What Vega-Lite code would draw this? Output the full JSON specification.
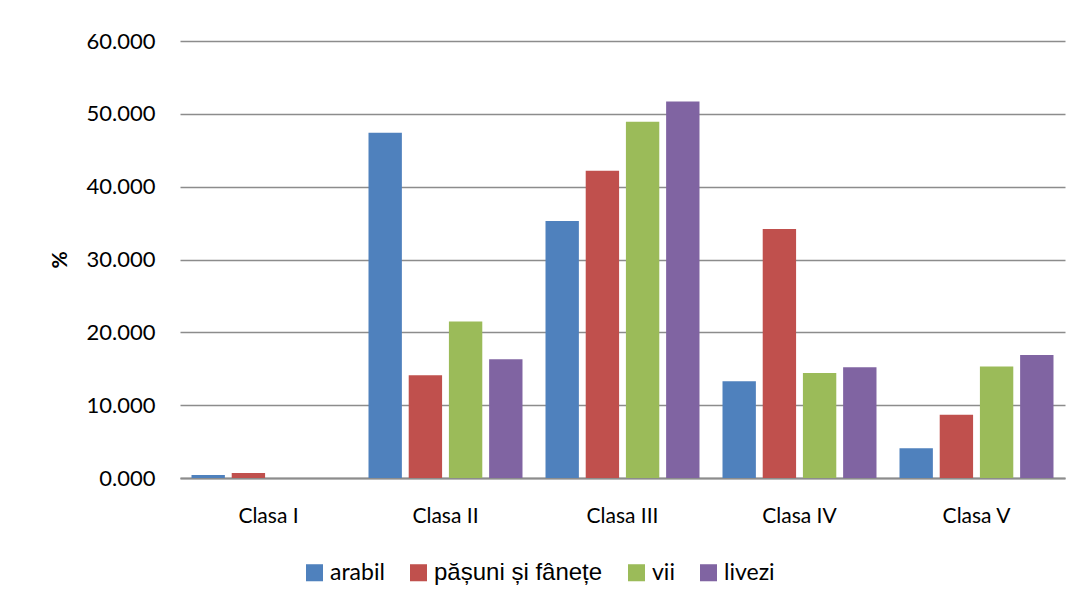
{
  "$schema": "https://vega.github.io/schema/vega-lite/v6.json",
  "width": 885,
  "height": 437,
  "autosize": {"type": "none"},
  "padding": {"left": 180, "top": 41, "right": 16, "bottom": 125},
  "background": "white",
  "data": {
    "values": [
      {"clasa": "Clasa I", "folosinta": "arabil", "procent": 0.4},
      {"clasa": "Clasa I", "folosinta": "pășuni și fânețe", "procent": 0.7},
      {"clasa": "Clasa I", "folosinta": "vii", "procent": 0},
      {"clasa": "Clasa I", "folosinta": "livezi", "procent": 0},
      {"clasa": "Clasa II", "folosinta": "arabil", "procent": 47.4},
      {"clasa": "Clasa II", "folosinta": "pășuni și fânețe", "procent": 14.1},
      {"clasa": "Clasa II", "folosinta": "vii", "procent": 21.5},
      {"clasa": "Clasa II", "folosinta": "livezi", "procent": 16.3},
      {"clasa": "Clasa III", "folosinta": "arabil", "procent": 35.3},
      {"clasa": "Clasa III", "folosinta": "pășuni și fânețe", "procent": 42.2},
      {"clasa": "Clasa III", "folosinta": "vii", "procent": 48.9},
      {"clasa": "Clasa III", "folosinta": "livezi", "procent": 51.7},
      {"clasa": "Clasa IV", "folosinta": "arabil", "procent": 13.3},
      {"clasa": "Clasa IV", "folosinta": "pășuni și fânețe", "procent": 34.2},
      {"clasa": "Clasa IV", "folosinta": "vii", "procent": 14.4},
      {"clasa": "Clasa IV", "folosinta": "livezi", "procent": 15.2},
      {"clasa": "Clasa V", "folosinta": "arabil", "procent": 4.1},
      {"clasa": "Clasa V", "folosinta": "pășuni și fânețe", "procent": 8.7},
      {"clasa": "Clasa V", "folosinta": "vii", "procent": 15.3},
      {"clasa": "Clasa V", "folosinta": "livezi", "procent": 16.9}
    ]
  },
  "mark": {"type": "bar"},
  "encoding": {
    "x": {
      "field": "clasa",
      "type": "nominal",
      "sort": ["Clasa I", "Clasa II", "Clasa III", "Clasa IV", "Clasa V"],
      "scale": {"paddingInner": 0.13, "paddingOuter": 0.065},
      "axis": {
        "title": null,
        "labelAngle": 0,
        "ticks": false,
        "labelPadding": 27,
        "labelFontSize": 21,
        "labelFont": "Lato",
        "labelColor": "black",
        "domainColor": "#8c8c8c",
        "domainWidth": 2
      }
    },
    "xOffset": {
      "field": "folosinta",
      "type": "nominal",
      "sort": ["arabil", "pășuni și fânețe", "vii", "livezi"],
      "scale": {"paddingInner": 0.17, "paddingOuter": 0}
    },
    "y": {
      "field": "procent",
      "type": "quantitative",
      "scale": {"domain": [0, 60], "nice": false},
      "axis": {
        "title": "%",
        "titleFont": "Lato",
        "titleFontSize": 21,
        "titleFontWeight": "bold",
        "titleColor": "black",
        "titlePadding": 16,
        "values": [0, 10, 20, 30, 40, 50, 60],
        "format": ".3f",
        "labelFont": "Lato",
        "labelFontSize": 22,
        "labelColor": "black",
        "labelPadding": 25,
        "ticks": false,
        "domain": false,
        "grid": true,
        "gridColor": "#8c8c8c",
        "gridWidth": 1.6
      }
    },
    "color": {
      "field": "folosinta",
      "type": "nominal",
      "scale": {
        "domain": ["arabil", "pășuni și fânețe", "vii", "livezi"],
        "range": ["#4F81BD", "#C0504D", "#9BBB59", "#8064A2"]
      },
      "legend": {
        "title": null,
        "orient": "none",
        "direction": "horizontal",
        "legendX": 123,
        "legendY": 520,
        "symbolType": "square",
        "symbolSize": 290,
        "symbolStrokeWidth": 0,
        "symbolOpacity": 1,
        "labelFont": "Lato",
        "labelFontSize": 23,
        "labelColor": "black",
        "labelOffset": 4,
        "labelLimit": 400,
        "columnPadding": 22,
        "encode": {
          "labels": {
            "update": {
              "font": {"signal": "datum.value === 'pășuni și fânețe' ? 'Liberation Sans' : 'Lato'"},
              "fontSize": {"signal": "datum.value === 'pășuni și fânețe' ? 24 : 23"}
            }
          }
        }
      }
    }
  },
  "config": {"view": {"stroke": null}}
}
